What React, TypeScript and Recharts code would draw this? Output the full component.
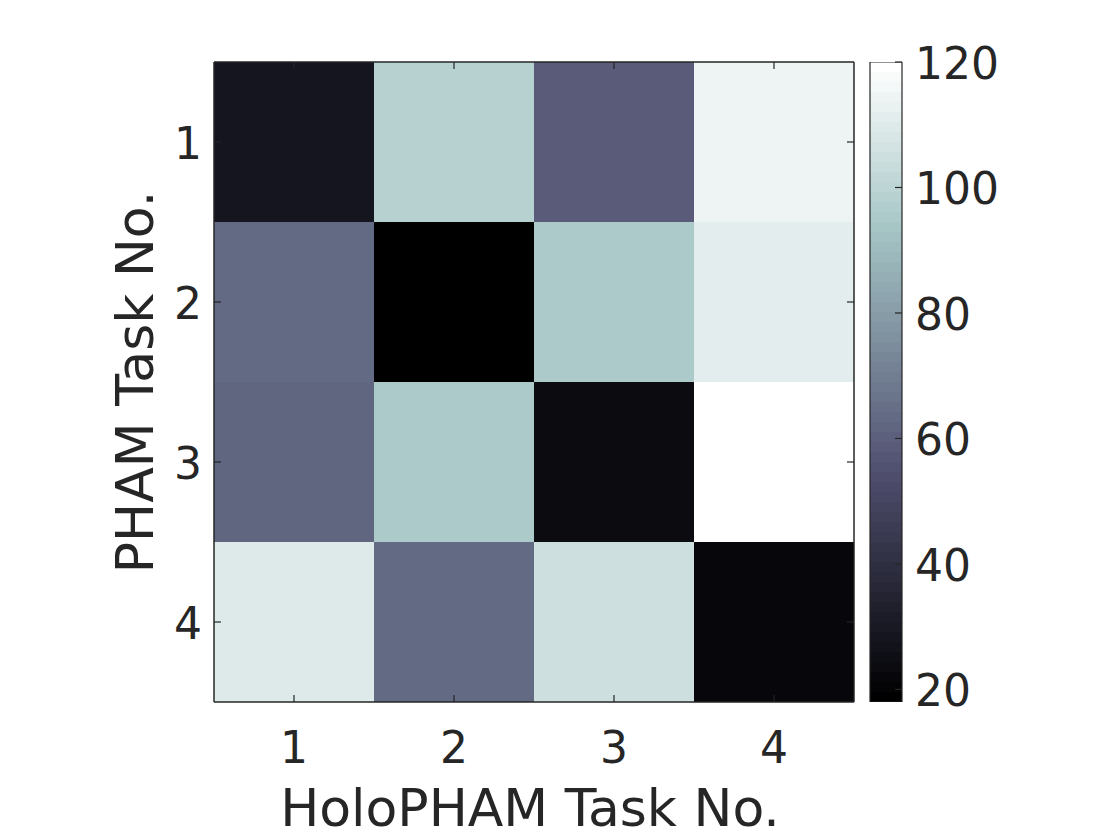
import React from 'react'
import { BarChart, Bar, XAxis, YAxis, Cell } from 'recharts'

// HoloPHAM task (columns) vs PHAM task (rows)
const holoTasks = ['1', '2', '3', '4']
const phamTasks = ['1', '2', '3', '4']
const row1 = [29, 99, 58, 114]
const row2 = [63, 18, 95, 111]
const row3 = [62, 95, 24, 120]
const row4 = [110, 63, 105, 22]
const colorTicks = [20, 40, 60, 80, 100, 120]
const cMin = 18
const cMax = 120

const rows = [row1, row2, row3, row4]
const INK = '#262626'
const FONT = '"DejaVu Sans", sans-serif'

// MATLAB bone colormap, 64 levels
const boneLevel = (idx: number) => {
  const m = 64
  const n = 24
  const i = idx + 1
  const t = idx / (m - 1)
  const hr = i <= n ? i / n : 1
  const hg = i <= n ? 0 : i <= 2 * n ? (i - n) / n : 1
  const hb = i <= 2 * n ? 0 : (i - 2 * n) / (m - 2 * n)
  const c = (h: number) => Math.round(((7 * t + h) / 8) * 255)
  return `rgb(${c(hb)},${c(hg)},${c(hr)})`
}
const bone = (v: number) => {
  let idx = Math.floor(((v - cMin) / (cMax - cMin)) * 64)
  idx = Math.max(0, Math.min(63, idx))
  return boneLevel(idx)
}

const data = holoTasks.map((t, j) => ({
  task: t,
  r1: row1[j],
  r2: row2[j],
  r3: row3[j],
  r4: row4[j],
}))

const BottomTick = ({ x, y, payload }: any) => (
  <g>
    <line x1={x} y1={y} x2={x} y2={y - 7} stroke={INK} strokeWidth={1.2} />
    <text x={x} y={y + 61} textAnchor="middle" fill={INK} fontSize={44} fontFamily={FONT}>
      {payload.value}
    </text>
  </g>
)
const TopTick = ({ x, y }: any) => (
  <line x1={x} y1={y} x2={x} y2={y + 7} stroke={INK} strokeWidth={1.2} />
)
const LeftTick = ({ x, y, payload }: any) => (
  <g>
    <line x1={x} y1={y} x2={x + 7} y2={y} stroke={INK} strokeWidth={1.2} />
    <text x={x - 12} y={y + 17} textAnchor="end" fill={INK} fontSize={44} fontFamily={FONT}>
      {phamTasks[Math.floor(payload.value)]}
    </text>
  </g>
)
const RightTick = ({ x, y }: any) => (
  <line x1={x} y1={y} x2={x - 7} y2={y} stroke={INK} strokeWidth={1.2} />
)
const BarTick = ({ x, y, payload }: any) => (
  <g>
    <line x1={x} y1={y} x2={x - 7} y2={y} stroke={INK} strokeWidth={1.2} />
    <text x={x + 13} y={y + 17} textAnchor="start" fill={INK} fontSize={44} fontFamily={FONT}>
      {payload.value}
    </text>
  </g>
)

const bands = Array.from({ length: 64 }, (_, i) => i)

export default function App() {
  return (
    <div style={{ position: 'absolute', left: 0, top: 0, width: 1120, height: 840, background: '#fff' }}>
      <svg width={0} height={0} style={{ position: 'absolute' }}>
        <defs>
          <linearGradient id="boneGrad" x1="0" y1="1" x2="0" y2="0">
            {bands.flatMap((i) => [
              <stop key={`a${i}`} offset={i / 64} stopColor={boneLevel(i)} />,
              <stop key={`b${i}`} offset={(i + 1) / 64} stopColor={boneLevel(i)} />,
            ])}
          </linearGradient>
        </defs>
      </svg>

      <div style={{ position: 'absolute', left: 0, top: 0 }}>
        <BarChart
          width={1120}
          height={840}
          data={data}
          margin={{ top: 61, right: 265, bottom: 137, left: 213 }}
          barCategoryGap={0}
          barGap={0}
        >
          <XAxis
            dataKey="task"
            height={1}
            tickSize={0}
            tickMargin={0}
            axisLine={{ stroke: INK, strokeWidth: 1.5 }}
            tick={<BottomTick />}
            interval={0}
            label={{
              content: ({ viewBox }: any) => (
                <text
                  x={viewBox.x + viewBox.width / 2 - 4}
                  y={viewBox.y + 124}
                  textAnchor="middle"
                  fill={INK}
                  fontSize={52}
                  fontFamily={FONT}
                >
                  HoloPHAM Task No.
                </text>
              ),
            }}
          />
          <XAxis
            xAxisId="top"
            orientation="top"
            dataKey="task"
            height={1}
            tickSize={0}
            tickMargin={0}
            axisLine={{ stroke: INK, strokeWidth: 1.5 }}
            tick={<TopTick />}
            interval={0}
          />
          <YAxis
            type="number"
            domain={[0, 4]}
            reversed
            ticks={[0.5, 1.5, 2.5, 3.5]}
            interval={0}
            width={1}
            tickSize={0}
            tickMargin={0}
            allowDataOverflow
            axisLine={{ stroke: INK, strokeWidth: 1.5 }}
            tick={<LeftTick />}
            label={{
              content: ({ viewBox }: any) => {
                const cx = viewBox.x + viewBox.width - 61
                const cy = viewBox.y + viewBox.height / 2
                return (
                  <text
                    x={cx}
                    y={cy}
                    transform={`rotate(-90, ${cx}, ${cy})`}
                    textAnchor="middle"
                    fill={INK}
                    fontSize={52}
                    fontFamily={FONT}
                  >
                    PHAM Task No.
                  </text>
                )
              },
            }}
          />
          <YAxis
            yAxisId="right"
            orientation="right"
            type="number"
            domain={[0, 4]}
            reversed
            ticks={[0.5, 1.5, 2.5, 3.5]}
            interval={0}
            width={1}
            tickSize={0}
            tickMargin={0}
            allowDataOverflow
            axisLine={{ stroke: INK, strokeWidth: 1.5 }}
            tick={<RightTick />}
          />
          {rows.map((row, i) => (
            <Bar
              key={`r${i}`}
              dataKey={() => 1}
              stackId="m"
              isAnimationActive={false}
              stroke="none"
            >
              {row.map((v, j) => (
                <Cell key={`c${i}-${j}`} fill={bone(v)} />
              ))}
            </Bar>
          ))}
        </BarChart>
      </div>

      <div style={{ position: 'absolute', left: 0, top: 0 }}>
        <BarChart
          width={1120}
          height={840}
          data={[{ k: 'cb' }]}
          margin={{ top: 62, right: 217, bottom: 138, left: 870 }}
          barCategoryGap={0}
        >
          <XAxis dataKey="k" hide />
          <YAxis
            orientation="right"
            type="number"
            domain={[cMin, cMax]}
            ticks={colorTicks}
            interval={0}
            width={1}
            tickSize={0}
            tickMargin={0}
            allowDataOverflow
            axisLine={false}
            tick={<BarTick />}
          />
          <Bar
            dataKey={() => [cMin, cMax]}
            fill="url(#boneGrad)"
            stroke={INK}
            strokeWidth={1.2}
            isAnimationActive={false}
          />
        </BarChart>
      </div>
    </div>
  )
}
